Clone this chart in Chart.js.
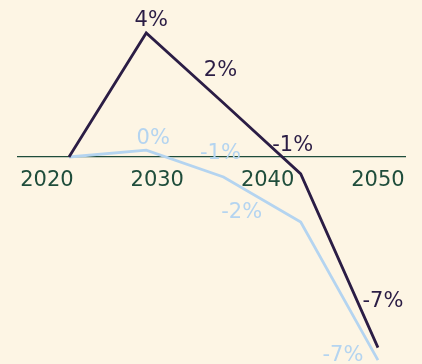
<!DOCTYPE html>
<html lang="en">
<head>
    <meta charset="UTF-8">
    <title>Change chart</title>
    <style>
        html, body {
            margin: 0;
            padding: 0;
            background-color: #fdf5e4;
        }
        .wrap {
            width: 422px;
            height: 364px;
        }
    </style>
    <script src="https://cdn.jsdelivr.net/npm/chart.js"></script>
</head>
<body>
    <div class="wrap"><canvas id="chart" width="422" height="364"></canvas></div>

    <script>
        // Data
        const years = [2022, 2029, 2036, 2043, 2050];
        const tickYears = [2020, 2030, 2040, 2050];
        const darkValues = [0, 3.97, 1.73, -0.54, -6.1];
        const lightValues = [0, 0.22, -0.64, -2.08, -6.5];
        const darkLabels = ['', '4%', '2%', '-1%', '-7%'];
        const lightLabels = ['', '0%', '-1%', '-2%', '-7%'];

        // label offsets from each point (px)
        const darkOffsets = [null, [5, -12], [-3, -32], [-8, -28], [5, -46]];
        const lightOffsets = [null, [7, -12], [-3, -23], [-59, -9], [-35, -5]];

        const darkColor = '#2b1d45';
        const lightColor = '#b4d4f0';
        const green = '#1f4d3b';

        const pointLabels = {
            id: 'pointLabels',
            afterDatasetsDraw(chart) {
                const ctx = chart.ctx;
                const sets = [
                    { labels: darkLabels, offsets: darkOffsets, color: darkColor },
                    { labels: lightLabels, offsets: lightOffsets, color: lightColor }
                ];
                ctx.save();
                ctx.font = '21px "DejaVu Sans"';
                ctx.textAlign = 'center';
                ctx.textBaseline = 'middle';
                sets.forEach((s, i) => {
                    const meta = chart.getDatasetMeta(i);
                    meta.data.forEach((pt, j) => {
                        if (!s.labels[j]) return;
                        ctx.fillStyle = s.color;
                        ctx.fillText(s.labels[j], pt.x + s.offsets[j][0], pt.y + s.offsets[j][1]);
                    });
                });
                ctx.restore();
            }
        };

        const ctx = document.getElementById('chart').getContext('2d');
        new Chart(ctx, {
            type: 'line',
            data: {
                datasets: [
                    {
                        data: years.map((y, i) => ({ x: y, y: darkValues[i] })),
                        borderColor: darkColor,
                        borderWidth: 2.8,
                        pointRadius: 0,
                        tension: 0
                    },
                    {
                        data: years.map((y, i) => ({ x: y, y: lightValues[i] })),
                        borderColor: lightColor,
                        borderWidth: 2.8,
                        pointRadius: 0,
                        tension: 0
                    }
                ]
            },
            options: {
                responsive: false,
                animation: false,
                layout: { padding: { left: 18, right: 17, top: 10, bottom: 2 } },
                plugins: {
                    legend: { display: false },
                    tooltip: { enabled: false }
                },
                scales: {
                    x: {
                        type: 'linear',
                        position: { y: 0 },
                        min: 2017.38,
                        max: 2052.45,
                        z: 1,
                        afterBuildTicks: (scale) => {
                            scale.ticks = tickYears.map(v => ({ value: v }));
                        },
                        grid: { display: false, drawTicks: false },
                        border: { display: true, color: green, width: 1.2 },
                        ticks: {
                            autoSkip: false,
                            maxRotation: 0,
                            padding: 11,
                            color: green,
                            font: { family: 'DejaVu Sans', size: 21 },
                            callback: (v) => String(v)
                        }
                    },
                    y: {
                        display: false,
                        min: -6.56,
                        max: 4.704
                    }
                }
            },
            plugins: [pointLabels]
        });
    </script>
</body>
</html>
